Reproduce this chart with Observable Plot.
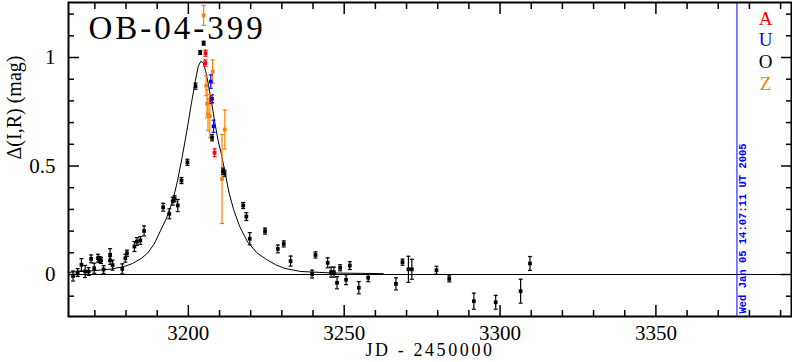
<!DOCTYPE html>
<html><head><meta charset="utf-8">
<script src="https://cdn.jsdelivr.net/npm/d3@7"></script>
<script src="https://cdn.jsdelivr.net/npm/@observablehq/plot@0.6"></script>
<style>
html,body{margin:0;padding:0;background:#fff;}
#chart svg{display:block;}
</style>
</head><body><div id="chart"></div>
<script>
const titleText = "OB-04-399";
const xLabel = "JD - 2450000";
const yLabel = "Δ(I,R) (mag)";
const stampText = "Wed Jan 05 14:07:11 UT 2005";
const stampJD = [3376.0];
const xTicksMajor = [3200, 3250, 3300, 3350];
const xTicksMinor = [3170,3180,3190,3210,3220,3230,3240,3260,3270,3280,3290,3310,3320,3330,3340,3360,3370,3380,3390];
const yTicksMajor = [0, 0.5, 1];
const yTickLabels = ["0", "0.5", "1"];
const yTicksMinor = [-0.1,0.1,0.2,0.3,0.4,0.6,0.7,0.8,0.9,1.1,1.2];
const legendLetters = ["A", "U", "O", "Z"];
const legendColors = ["#ff0000", "#0000ff", "#000000", "#ff8000"];

// O (black)
const jdO = [3163.0,3164.5,3165.7,3166.9,3168.0,3168.8,3169.8,3171.0,3171.5,3172.0,3172.8,3174.9,3174.9,3175.7,3178.8,3179.8,3180.3,3182.7,3183.5,3184.6,3185.8,3191.9,3193.9,3195.0,3195.6,3196.6,3197.8,3199.7,3202.3,3203.8,3204.9,3207.6,3211.1,3211.6,3217.6,3218.6,3219.7,3224.6,3228.7,3230.6,3232.8,3239.7,3240.8,3244.7,3245.8,3246.7,3247.7,3248.7,3250.6,3251.8,3254.7,3257.7,3266.6,3268.7,3270.6,3271.7,3279.6,3283.7,3291.6,3298.6,3306.6,3309.6];
const magO = [-0.007,0.009,0.045,0.014,0.014,0.072,0.029,0.075,0.069,0.065,0.023,0.091,0.065,0.043,0.026,0.075,0.098,0.129,0.152,0.157,0.201,0.310,0.280,0.338,0.349,0.318,0.433,0.517,0.868,1.023,1.066,0.630,0.476,0.467,0.318,0.267,0.165,0.200,0.118,0.141,0.062,0.002,0.090,0.054,0.011,0.011,-0.038,0.031,-0.024,0.041,-0.061,-0.015,-0.043,0.057,0.024,0.024,0.020,-0.020,-0.123,-0.128,-0.077,0.051];
const errO = [0.023,0.018,0.028,0.028,0.018,0.018,0.023,0.018,0.014,0.014,0.018,0.028,0.018,0.023,0.023,0.018,0.014,0.023,0.018,0.018,0.023,0.018,0.023,0.018,0.014,0.028,0.014,0.014,0.014,0.009,0.009,0.014,0.014,0.014,0.014,0.018,0.028,0.014,0.018,0.014,0.023,0.018,0.014,0.023,0.023,0.023,0.028,0.014,0.023,0.018,0.028,0.018,0.028,0.014,0.06,0.046,0.018,0.014,0.037,0.032,0.055,0.032];
// A (red)
const jdA = [3205.5,3205.4,3207.3,3208.4];
const magA = [1.020,0.974,0.802,0.561];
const errA = [0.014,0.014,0.014,0.018];
// U (blue)
const jdU = [3207.2,3207.6,3208.1];
const magU = [0.889,0.810,0.683];
const errU = [0.031,0.018,0.028];
// Z (orange)
const jdZ = [3204.9,3205.7,3206.0,3206.3,3206.9,3207.8,3210.8,3211.7];
const magZ = [1.194,0.870,0.787,0.737,0.730,0.935,0.440,0.668];
const errZ = [0.046,0.046,0.065,0.074,0.100,0.054,0.205,0.090];

// model curve
const modelJD = [3161.6,3170,3175,3179,3182,3185,3187,3189,3191,3193,3195,3196.5,3198,3199.5,3201,3202.2,3203.2,3204.0,3204.8,3205.6,3206.5,3207.5,3208.5,3209.5,3210.5,3211.5,3213,3214.5,3216.5,3219,3222,3225,3228,3231,3236,3246,3262.5];
const modelMag = [0.010,0.018,0.025,0.035,0.050,0.075,0.100,0.140,0.200,0.260,0.340,0.430,0.540,0.660,0.790,0.890,0.960,0.983,0.975,0.935,0.870,0.790,0.700,0.620,0.560,0.490,0.380,0.300,0.220,0.150,0.100,0.070,0.045,0.028,0.014,0.007,0.004];

function rows(jd, mag, err, color) {
  return jd.map((x, i) => ({x, y: mag[i], e: err[i], c: color}));
}
const pts = [
  ...rows(jdO, magO, errO, legendColors[2]),
  ...rows(jdA, magA, errA, legendColors[0]),
  ...rows(jdU, magU, errU, legendColors[1]),
  ...rows(jdZ, magZ, errZ, legendColors[3])
];
const model = modelJD.map((x, i) => ({x, y: modelMag[i]}));

const capSymbol = {draw(ctx, size) { const w = Math.sqrt(size / Math.PI); ctx.moveTo(-w, 0); ctx.lineTo(w, 0); }};
const FONT = "Liberation Serif";

const chart = Plot.plot({
  width: 792, height: 362,
  marginLeft: 68, marginRight: 1, marginTop: 2, marginBottom: 46,
  style: {fontFamily: FONT, background: "#fff"},
  x: {domain: [3161.55, 3393.5], label: null},
  y: {domain: [-0.1935, 1.2535], label: null},
  color: {type: "identity"},
  marks: [
    Plot.ruleY([0], {stroke: "black", strokeWidth: 1}),
    Plot.line(model, {x: "x", y: "y", stroke: "black", strokeWidth: 1}),
    Plot.ruleX(stampJD, {stroke: "#0000ff", strokeWidth: 1}),
    Plot.ruleX(pts, {x: "x", y1: d => d.y - d.e, y2: d => d.y + d.e, stroke: "c", strokeWidth: 1.2}),
    Plot.dot(pts, {x: "x", y: d => d.y - d.e, symbol: capSymbol, r: 2, stroke: "c", strokeWidth: 1.2}),
    Plot.dot(pts, {x: "x", y: d => d.y + d.e, symbol: capSymbol, r: 2, stroke: "c", strokeWidth: 1.2}),
    Plot.dot(pts, {x: "x", y: "y", symbol: "square", r: 2.1, fill: "c", stroke: null}),
    // ticks (inward)
    Plot.axisX({anchor: "bottom", ticks: xTicksMajor, tickSize: -11, tickFormat: () => "", strokeWidth: 1.5}),
    Plot.axisX({anchor: "bottom", ticks: xTicksMinor, tickSize: -6, tickFormat: () => "", strokeWidth: 1.5}),
    Plot.axisX({anchor: "top", ticks: xTicksMajor, tickSize: -11, tickFormat: () => "", strokeWidth: 1.5}),
    Plot.axisX({anchor: "top", ticks: xTicksMinor, tickSize: -6, tickFormat: () => "", strokeWidth: 1.5}),
    Plot.axisY({anchor: "left", ticks: yTicksMajor, tickSize: -11, tickFormat: () => "", strokeWidth: 1.5}),
    Plot.axisY({anchor: "left", ticks: yTicksMinor, tickSize: -6, tickFormat: () => "", strokeWidth: 1.5}),
    Plot.axisY({anchor: "right", ticks: yTicksMajor, tickSize: -11, tickFormat: () => "", strokeWidth: 1.5}),
    Plot.axisY({anchor: "right", ticks: yTicksMinor, tickSize: -6, tickFormat: () => "", strokeWidth: 1.5}),
    // labels
    Plot.axisX({anchor: "bottom", ticks: xTicksMajor, tickSize: 0, tickPadding: 9, tickFormat: d => String(d), fontSize: 21, fill: "black", label: null}),
    Plot.axisY({anchor: "left", ticks: yTicksMajor, tickSize: 0, tickPadding: 13, tickFormat: d => yTickLabels[yTicksMajor.indexOf(d)], fontSize: 21, fill: "black", label: null}),
    Plot.frame({stroke: "black", strokeWidth: 2}),
    Plot.text([xLabel], {frameAnchor: "bottom", dy: 27, lineAnchor: "top", fontSize: 18, fill: "black", text: d => d}),
    Plot.text([yLabel], {frameAnchor: "left", dx: -62, rotate: -90, lineAnchor: "top", fontSize: 20, fill: "black", text: d => d}),
    Plot.text([titleText], {frameAnchor: "top-left", dx: 20, dy: 13, textAnchor: "start", lineAnchor: "top", fontSize: 33, fill: "black", text: d => d}),
    ...legendLetters.map((t, i) => Plot.text([t], {frameAnchor: "top-right", dx: -26, dy: 16 + i * 21.8, textAnchor: "middle", lineAnchor: "middle", fontSize: 19, fill: legendColors[i], text: d => d})),
    Plot.text([stampText], {x: d => stampJD[0], frameAnchor: "bottom", dy: -3, dx: 2, rotate: -90, textAnchor: "start", lineAnchor: "top", fontSize: 10.5, fontFamily: "Liberation Mono", fontWeight: "bold", fill: "#0000ff", text: d => d})
  ]
});
document.getElementById("chart").appendChild(chart);
chart.querySelectorAll("text").forEach(t => {
  if (t.textContent === titleText) t.setAttribute("letter-spacing", "3");
  if (t.textContent === xLabel) t.setAttribute("letter-spacing", "2.6");
});
</script>
</body></html>
